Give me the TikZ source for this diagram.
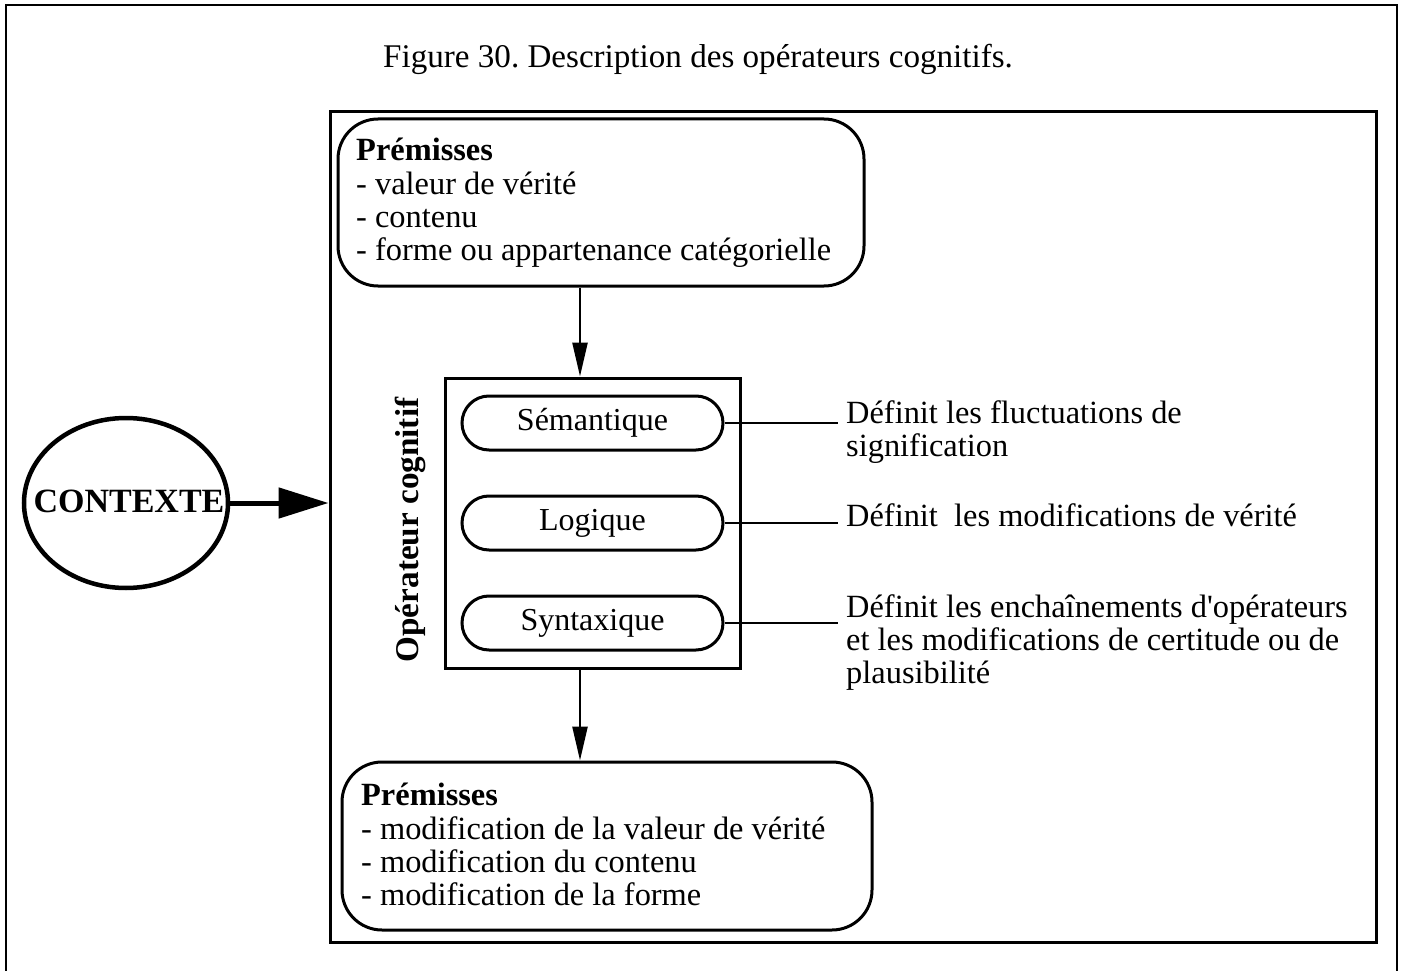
\documentclass[tikz,border=0pt]{standalone}
\usepackage{fontspec}
\setmainfont{Liberation Serif}
\newfontfamily\plainserif{Liberation Serif}[Ligatures=TeXOff]
\usetikzlibrary{arrows.meta,shapes.geometric}
\frenchspacing
\newcommand{\sq}{{\plainserif'}}
\begin{document}
\begin{tikzpicture}[x=1pt,y=-1pt,
  txt/.style={inner sep=0pt,font=\fontsize{32.4}{33.3}\selectfont},
  lefttxt/.style={txt,align=left,anchor=north west},
  boxline/.style={line width=3pt},
  premisbox/.style={draw,boxline,rounded corners=40pt,inner sep=0pt},
  pill/.style={draw,boxline,rounded corners=27pt,minimum width=261pt,minimum height=54pt,inner sep=0pt,font=\fontsize{32}{33}\selectfont},
  link/.style={line width=2.5pt},
  flow/.style={line width=2.5pt,-{Triangle[length=34pt,width=15pt]}},
  bigflow/.style={line width=5pt,-{Triangle[length=50pt,width=30pt]}}
]
\useasboundingbox (0,0) rectangle (1401,971);
% outer frame (open at bottom)
\draw[line width=2.5pt] (6,971) -- (6,5) -- (1397,5) -- (1397,971);
% title
\node[txt,font=\fontsize{33.1}{34}\selectfont,anchor=west] (title) at (383,59) {Figure 30. Description des opérateurs cognitifs.};
% inner frame
\node[draw,boxline,minimum width=1046pt,minimum height=830pt,inner sep=0pt] (inner) at (853,527) {};
% premisses top
\node[premisbox,minimum width=526pt,minimum height=167pt] (p1) at (601,202.5) {};
\node[lefttxt] (p1t) at (356,138) {\textbf{Prémisses}\\- valeur de vérité\\- contenu\\- forme ou appartenance catégorielle};
% operator box
\node[draw,boxline,minimum width=295pt,minimum height=290pt,inner sep=0pt] (op) at (592.5,523) {};
\node[txt,font=\fontsize{33.2}{34}\selectfont\bfseries,rotate=90] (opl) at (410,530) {Opérateur cognitif};
\node[pill] (sem) at (592.5,423) {Sémantique};
\node[pill] (log) at (592.5,523) {Logique};
\node[pill] (syn) at (592.5,623) {Syntaxique};
% descriptions
\node[lefttxt] (d1) at (846,400) {Définit les fluctuations de\\signification};
\node[lefttxt] (d2) at (846,503) {Définit\ \ les modifications de vérité};
\node[lefttxt] (d3) at (846,594) {Définit les enchaînements d\sq opérateurs\\et les modifications de certitude ou de\\plausibilité};
\coordinate (e1) at (838,423);
\coordinate (e2) at (838,523);
\coordinate (e3) at (838,623);
\draw[link] (sem.east) -- (e1);
\draw[link] (log.east) -- (e2);
\draw[link] (syn.east) -- (e3);
% premisses bottom
\node[premisbox,minimum width=530pt,minimum height=168pt] (p2) at (607,846) {};
\node[lefttxt] (p2t) at (361,783) {\textbf{Prémisses}\\- modification de la valeur de vérité\\- modification du contenu\\- modification de la forme};
% vertical arrows
\coordinate (ax) at (580,0);
\draw[flow] (p1.south -| ax) -- (op.north -| ax);
\draw[flow] (op.south -| ax) -- (p2.north -| ax);
% contexte
\node[draw,ellipse,line width=4.5pt,minimum width=204pt,minimum height=170pt,inner sep=0pt] (ctx) at (126,503) {};
\node[txt,font=\fontsize{34}{34}\selectfont\bfseries] (ctxt) at (129,501) {CONTEXTE};
\draw[bigflow] (ctx.east) -- (ctx.east -| inner.west);
\end{tikzpicture}
\end{document}
